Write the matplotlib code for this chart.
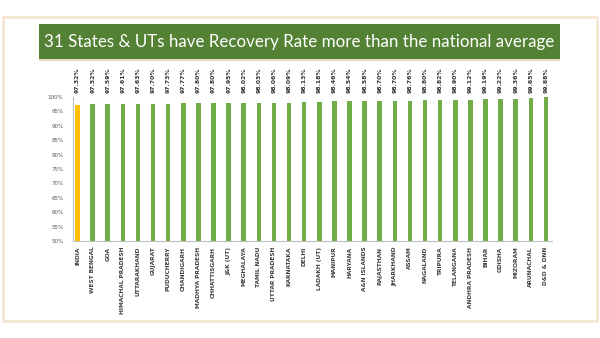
import matplotlib.pyplot as plt
from matplotlib.patches import Rectangle

states = ["INDIA", "WEST BENGAL", "GOA", "HIMACHAL PRADESH", "UTTARAKHAND", "GUJARAT",
          "PUDUCHERRY", "CHANDIGARH", "MADHYA PRADESH", "CHHATTISGARH", "J&K (UT)",
          "MEGHALAYA", "TAMIL NADU", "UTTAR PRADESH", "KARNATAKA", "DELHI", "LADAKH (UT)",
          "MANIPUR", "HARYANA", "A&N ISLANDS", "RAJASTHAN", "JHARKHAND", "ASSAM",
          "NAGALAND", "TRIPURA", "TELANGANA", "ANDHRA PRADESH", "BIHAR", "ODISHA",
          "MIZORAM", "ARUNACHAL", "D&D & DNN"]
recovery = [97.32, 97.52, 97.59, 97.61, 97.63, 97.70, 97.73, 97.77, 97.80, 97.80, 97.95,
            98.02, 98.03, 98.06, 98.09, 98.13, 98.18, 98.46, 98.54, 98.58, 98.70, 98.70,
            98.76, 98.80, 98.82, 98.90, 99.12, 99.19, 99.22, 99.36, 99.65, 99.88]
yticks = [50, 55, 60, 65, 70, 75, 80, 85, 90, 95, 100]

fig = plt.figure(figsize=(6, 3.38), dpi=100)
fig.patch.set_facecolor("white")

# slide frame
fig.patches.append(Rectangle((3 / 600, 1 - 321 / 338), 594 / 600, 304 / 338,
                             transform=fig.transFigure, fill=False,
                             edgecolor="#f5e4cf", linewidth=1.8))
# title banner
fig.patches.append(Rectangle((39 / 600, 1 - 59 / 338), 521 / 600, 35 / 338,
                             transform=fig.transFigure, facecolor="#548235",
                             edgecolor="none"))
fig.patches.append(Rectangle((39 / 600, 1 - 60.5 / 338), 521 / 600, 1.5 / 338,
                             transform=fig.transFigure, facecolor="#e8d9bf",
                             edgecolor="none"))
fig.text(299.5 / 600, 1 - 42 / 338,
         "31 States & UTs have Recovery Rate more than the national average",
         color="white", fontsize=12.2, family="Lato", ha="center", va="center")

ax = fig.add_axes([73 / 600, 1 - 241 / 338, 479 / 600, 144 / 338])
x = list(range(len(states)))
colors = ["#ffc000"] + ["#70ad47"] * (len(states) - 1)
ax.bar(x, recovery, width=0.3, color=colors)
ax.set_ylim(50, 100)
ax.set_xlim(-0.3, len(states) - 0.6)
ax.set_yticks(yticks)
ax.set_yticklabels([f"{v}%" for v in yticks], fontsize=4, color="#555555")
ax.set_xticks(x)
ax.set_xticklabels(states, rotation=90, fontsize=4.2, fontweight="bold",
                   color="#404040", va="top")
ax.tick_params(length=0, pad=4)
ax.tick_params(axis="y", pad=7)
for s in ["top", "right"]:
    ax.spines[s].set_visible(False)
for s in ["left", "bottom"]:
    ax.spines[s].set_color("#bfbfbf")
    ax.spines[s].set_linewidth(0.8)

for i, v in enumerate(recovery):
    ax.text(i, 101.5, f"{v:.2f}%", rotation=90, ha="center", va="bottom",
            fontsize=4.4, fontweight="bold", color="#333333", clip_on=False)

fig.savefig("out.png", dpi=100)
